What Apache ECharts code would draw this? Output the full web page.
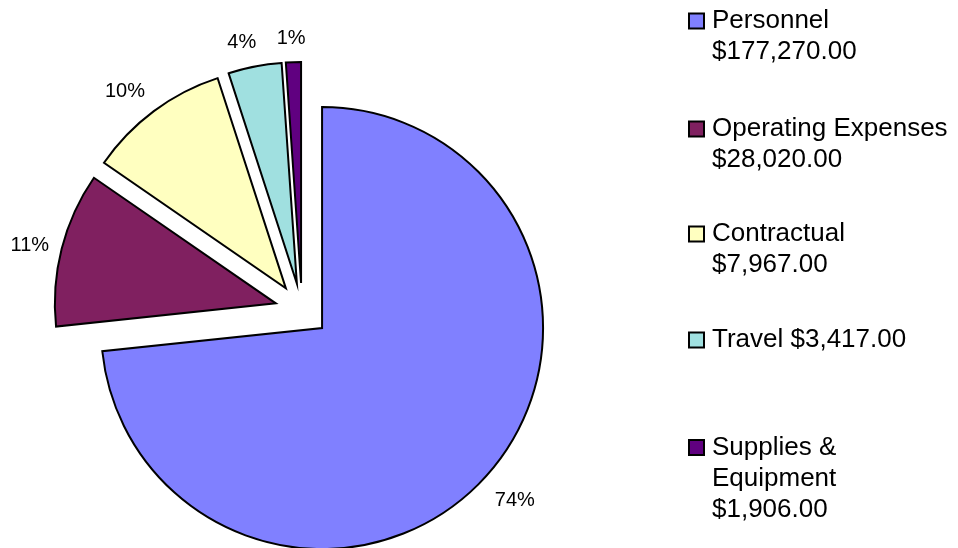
<!DOCTYPE html>
<html>
<head>
<meta charset="utf-8">
<script src="https://cdn.jsdelivr.net/npm/echarts@6/dist/echarts.min.js"></script>
<style>
  html, body { margin: 0; padding: 0; background: #fff; }
  #chart { width: 958px; height: 548px; }
</style>
</head>
<body>
<div id="chart"></div>
<script>
// budget categories, slice sizes and the printed labels
const categories = ['Personnel', 'Operating Expenses', 'Contractual', 'Travel', 'Supplies & Equipment']
const shares = [73.4, 11.3, 10.4, 3.9, 1.1]
const percentLabels = ['74%', '11%', '10%', '4%', '1%']
const legendText = [
  'Personnel\n$177,270.00',
  'Operating Expenses\n$28,020.00',
  'Contractual\n$7,967.00',
  'Travel $3,417.00',
  'Supplies &\nEquipment\n$1,906.00'
]
const colors = ['#8080ff', '#802060', '#ffffc0', '#a0e0e0', '#600080']

const FONT = "'Liberation Sans', Arial, sans-serif"
const LINE = 31
// y of the first text line of each legend entry
const legendRows = [21, 129, 234, 340, 447.5]
// percent label placement: distance from the rim, sideways nudge
const labelDist = [37, 15, 25, 24, 24]
const labelSide = [-24, -7, -11, -11, -18]

const chart = echarts.init(document.getElementById('chart'), null, { renderer: 'canvas' })

// one legend per entry; blank lines in front keep the icon on the first text line
const legends = categories.map((name, i) => {
  const n = legendText[i].split('\n').length
  return {
    data: [name],
    orient: 'vertical',
    left: 688,
    top: legendRows[i] - (2 * n - 1) * LINE / 2,
    padding: 0,
    icon: 'rect',
    itemWidth: 15,
    itemHeight: 15,
    itemStyle: { borderColor: '#000', borderWidth: 2 },
    selectedMode: false,
    formatter: () => '\n'.repeat(n - 1) + legendText[i],
    textStyle: {
      fontFamily: FONT,
      fontSize: 26,
      lineHeight: LINE,
      color: '#000',
      padding: [0, 0, 0, 3]
    }
  }
})

const option = {
  backgroundColor: '#fff',
  animation: false,
  color: colors,
  legend: legends,
  series: [
    {
      type: 'pie',
      center: [302, 310],
      radius: 221,
      startAngle: 90,
      clockwise: true,
      selectedMode: 'multiple',
      selectedOffset: 27,
      avoidLabelOverlap: false,
      itemStyle: {
        borderColor: '#000',
        borderWidth: 2,
        borderJoin: 'miter'
      },
      emphasis: { disabled: true },
      label: {
        show: true,
        position: 'outside',
        fontFamily: FONT,
        fontSize: 20,
        color: '#000',
        formatter: (p) => percentLabels[p.dataIndex]
      },
      labelLine: { show: false, length: 31, length2: -24 },
      data: categories.map((name, i) => ({
        name: name,
        value: shares[i],
        selected: true,
        labelLine: { length: labelDist[i], length2: labelSide[i] }
      }))
    }
  ]
}

chart.setOption(option)
</script>
</body>
</html>
